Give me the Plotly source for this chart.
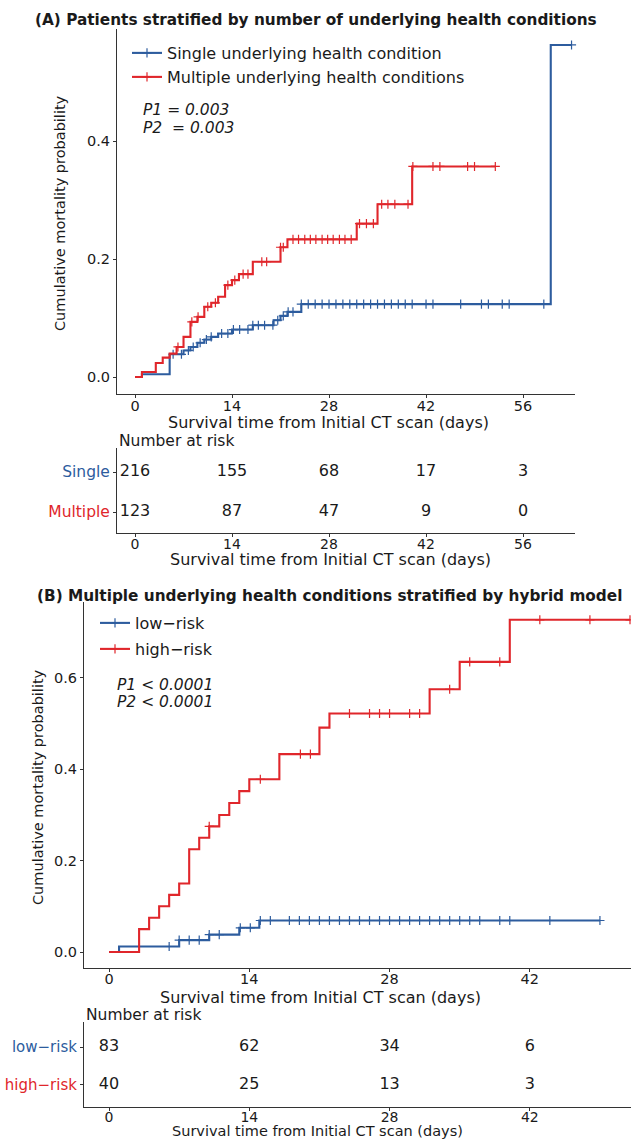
import numpy as np
import plotly.graph_objects as go

# ---------------- data ----------------
# Panel A: patients stratified by number of underlying health conditions
a_single_t = [0, 1, 5, 7, 8, 9, 10, 11, 12, 14, 17, 20, 21, 22, 24, 60, 63]
a_single_v = [0, 0.0046, 0.0385, 0.045, 0.051, 0.058, 0.0635, 0.068, 0.0737, 0.0805,
              0.0878, 0.0963, 0.1037, 0.1105, 0.1235, 0.563, 0.563]
a_single_cens = [5.5, 6.7, 7.7, 8.4, 9.4, 10.3, 11, 12.5, 13.4, 14.2, 15.1, 16.3, 17, 17.8,
                 18.7, 19.9, 20.6, 21.4, 22.1, 22.8, 24, 25, 26, 27, 28, 29, 30, 31, 32, 33,
                 34, 35, 36, 37, 38, 39, 40, 42, 43, 47, 50, 51, 53, 54, 59, 63]

a_multi_t = [0, 1, 3, 4, 5, 6, 7, 8, 9, 10, 11, 12, 13, 14, 15, 17, 21, 22, 32, 35, 40, 52]
a_multi_v = [0, 0.0085, 0.0238, 0.0329, 0.0397, 0.051, 0.068, 0.0935, 0.102, 0.119, 0.1258,
             0.136, 0.1558, 0.1643, 0.1745, 0.1955, 0.22, 0.2334, 0.26, 0.293, 0.357, 0.357]
a_multi_cens = [6.2, 8.2, 9.1, 10.5, 11.6, 13.4, 14.4, 15.6, 16.3, 18.3, 19, 21, 21.4, 22.8,
                23.6, 24.5, 25.3, 26.1, 27, 27.8, 28.6, 29.5, 30.3, 31.2, 32.4, 33.4, 34.4,
                35.6, 36.5, 37.5, 39.4, 40.1, 43, 44, 48, 49, 52]

a_risk_times = [0, 14, 28, 42, 56]
a_risk_single = [216, 155, 68, 17, 3]
a_risk_multi = [123, 87, 47, 9, 0]
a_xticks = [0, 14, 28, 42, 56]
a_yticks = [0.0, 0.2, 0.4]

# Panel B: multiple underlying health conditions stratified by hybrid model
b_low_t = [0, 1, 7, 10, 13, 15, 49]
b_low_v = [0, 0.012, 0.026, 0.038, 0.053, 0.069, 0.069]
b_low_cens = [6, 7, 8, 9, 10, 11, 13.1, 14.1, 15.1, 16.1, 18, 19, 20, 21, 22, 23, 24, 25, 26,
              27, 28, 29, 30, 31, 32, 33, 34, 35, 36, 37, 39, 40, 44, 49]

b_high_t = [0, 3, 4, 5, 6, 7, 8, 9, 10, 11, 12, 13, 14, 17, 21, 22, 32, 35, 40, 52]
b_high_v = [0, 0.05, 0.075, 0.1, 0.125, 0.15, 0.225, 0.25, 0.275, 0.30, 0.326, 0.352, 0.378,
            0.433, 0.491, 0.522, 0.575, 0.635, 0.727, 0.727]
b_high_cens = [10, 15.1, 19.1, 20.1, 24, 26, 27, 28, 30, 31, 34, 36, 39, 43, 48, 52]

b_risk_times = [0, 14, 28, 42]
b_risk_low = [83, 62, 34, 6]
b_risk_high = [40, 25, 13, 3]
b_xticks = [0, 14, 28, 42]
b_yticks = [0.0, 0.2, 0.4, 0.6]

# ---------------- style ----------------
W, H = 631, 1140
BLUE = "#2D5C9E"
RED = "#E0262B"
INK = "#1A1A1A"
FONT = "DejaVu Sans"
TICK = 14.5


def xd(px):
    return px / W


def yd(py):
    return 1 - py / H


def step_values(times, vals, pts):
    t = np.asarray(times, dtype=float)
    v = np.asarray(vals, dtype=float)
    idx = np.searchsorted(t, np.asarray(pts, dtype=float), side="right") - 1
    return v[np.clip(idx, 0, len(v) - 1)]


fig = go.Figure()


def add_curve(times, vals, cens, color, name, xa, ya, legend):
    fig.add_trace(go.Scatter(x=times, y=vals, mode="lines", line=dict(color=color, width=2.1, shape="hv"),
                             xaxis=xa, yaxis=ya, showlegend=False, hoverinfo="skip"))
    fig.add_trace(go.Scatter(x=cens, y=step_values(times, vals, cens), mode="markers",
                             marker=dict(symbol="cross-thin", size=6.5, color=color,
                                         line=dict(width=1.2, color=color)),
                             xaxis=xa, yaxis=ya, showlegend=False, cliponaxis=False, hoverinfo="skip"))
    fig.add_trace(go.Scatter(x=[None], y=[None], mode="lines+markers", name=name,
                             line=dict(color=color, width=2.1),
                             marker=dict(symbol="cross-thin", size=6.5, color=color,
                                         line=dict(width=1.2, color=color)),
                             xaxis=xa, yaxis=ya, legend=legend, showlegend=True))


add_curve(a_single_t, a_single_v, a_single_cens, BLUE, "Single underlying health condition", "x", "y", "legend")
add_curve(a_multi_t, a_multi_v, a_multi_cens, RED, "Multiple underlying health conditions", "x", "y", "legend2")
add_curve(b_low_t, b_low_v, b_low_cens, BLUE, "low\u2212risk", "x3", "y3", "legend3")
add_curve(b_high_t, b_high_v, b_high_cens, RED, "high\u2212risk", "x3", "y3", "legend4")

# risk tables (numbers)
for xs, row, vals, xa, ya in [
    (a_risk_times, 2, a_risk_single, "x2", "y2"),
    (a_risk_times, 1, a_risk_multi, "x2", "y2"),
    (b_risk_times, 2, b_risk_low, "x4", "y4"),
    (b_risk_times, 1, b_risk_high, "x4", "y4"),
]:
    fig.add_trace(go.Scatter(x=xs, y=[row] * len(xs), mode="text",
                             text=[str(v) for v in vals], textfont=dict(size=16, color=INK),
                             xaxis=xa, yaxis=ya, showlegend=False, hoverinfo="skip", cliponaxis=False))

ax = dict(showline=True, linecolor="#333333", linewidth=1.1, ticks="outside", ticklen=3,
          tickcolor="#333333", tickwidth=1, showgrid=False, zeroline=False,
          tickfont=dict(size=TICK, color=INK, family=FONT), fixedrange=True)
xax = dict(ax, ticklabelstandoff=-4)
xaxb = dict(ax, ticklabelstandoff=-5)
xtab = dict(ax, ticklabelstandoff=-5, tickfont=dict(size=14, color=INK, family=FONT))
xtabb = dict(ax, ticklabelstandoff=-6, tickfont=dict(size=14, color=INK, family=FONT))

fig.update_layout(
    width=W, height=H, margin=dict(l=0, r=0, t=0, b=0),
    paper_bgcolor="white", plot_bgcolor="white",
    font=dict(family=FONT, size=16, color=INK),
    xaxis=dict(domain=[xd(117), xd(575)], range=[-2.6, 63.5], anchor="y",
               tickvals=a_xticks, **xax),
    yaxis=dict(domain=[yd(394), yd(29)], range=[-0.0288, 0.59], anchor="x",
               tickvals=a_yticks, ticktext=[f"{v:.1f}" for v in a_yticks], **ax),
    xaxis2=dict(domain=[xd(117), xd(575)], range=[-2.6, 63.5], anchor="y2",
                tickvals=a_xticks, **xtab),
    yaxis2=dict(domain=[yd(533), yd(448)], range=[0.475, 2.6], anchor="x2",
                tickvals=[2, 1],
                ticktext=[f"<span style='color:{BLUE}'>Single</span>",
                          f"<span style='color:{RED}'>Multiple</span>"], **ax),
    xaxis3=dict(domain=[xd(84), 1.0], range=[-2.5, 52.1], anchor="y3",
                tickvals=b_xticks, **xaxb),
    yaxis3=dict(domain=[yd(968), yd(602)], range=[-0.035, 0.766], anchor="x3",
                tickvals=b_yticks, ticktext=[f"{v:.1f}" for v in b_yticks], **ax),
    xaxis4=dict(domain=[xd(84), 1.0], range=[-2.5, 52.1], anchor="y4",
                tickvals=b_xticks, **xtabb),
    yaxis4=dict(domain=[yd(1107), yd(1022)], range=[0.42, 2.66], anchor="x4",
                tickvals=[2, 1],
                ticktext=[f"<span style='color:{BLUE}'>low\u2212risk</span>",
                          f"<span style='color:{RED}'>high\u2212risk</span>"], **ax),
)
fig.update_layout(yaxis2=dict(tickfont=dict(size=15.5)), yaxis4=dict(tickfont=dict(size=15)))

leg = dict(xanchor="left", yanchor="middle", bgcolor="rgba(0,0,0,0)", borderwidth=0,
           font=dict(size=16, color=INK, family=FONT), itemwidth=30)
fig.update_layout(
    legend=dict(x=xd(127), y=yd(53), **leg),
    legend2=dict(x=xd(127), y=yd(77), **leg),
    legend3=dict(x=xd(95), y=yd(623), **leg),
    legend4=dict(x=xd(95), y=yd(649), **leg),
)

ann = []


def text(px, py, s, size=16, xanchor="center", angle=0, color=INK, family=FONT):
    ann.append(dict(x=xd(px), y=yd(py), xref="paper", yref="paper", text=s, showarrow=False,
                    xanchor=xanchor, yanchor="middle", textangle=angle,
                    font=dict(size=size, color=color, family=family)))


text(33, 20, "<b>(A) Patients stratified by number of underlying health conditions</b>", 15.3, "left")
text(35, 596, "<b>(B) Multiple underlying health conditions stratified by hybrid model</b>", 15.3, "left")
text(141, 110, "<i>P1 = 0.003</i>", 15.5, "left")
text(141, 128, "<i>P2\u00a0 = 0.003</i>", 15.5, "left")
text(115, 685, "<i>P1 &lt; 0.0001</i>", 15.5, "left")
text(115, 702, "<i>P2 &lt; 0.0001</i>", 15.5, "left")
text(329, 423, "Survival time from Initial CT scan (days)", 16)
text(330, 559, "Survival time from Initial CT scan (days)", 16)
text(320, 997, "Survival time from Initial CT scan (days)", 16)
text(317, 1131, "Survival time from Initial CT scan (days)", 14.5)
text(117, 441, "Number at risk", 15.5, "left")
text(84, 1015, "Number at risk", 15.5, "left")
text(60, 213, "Cumulative mortality probability", 14.5, angle=-90)
text(38, 787, "Cumulative mortality probability", 14.5, angle=-90)

fig.update_layout(annotations=ann)

fig.write_html("out.html")
